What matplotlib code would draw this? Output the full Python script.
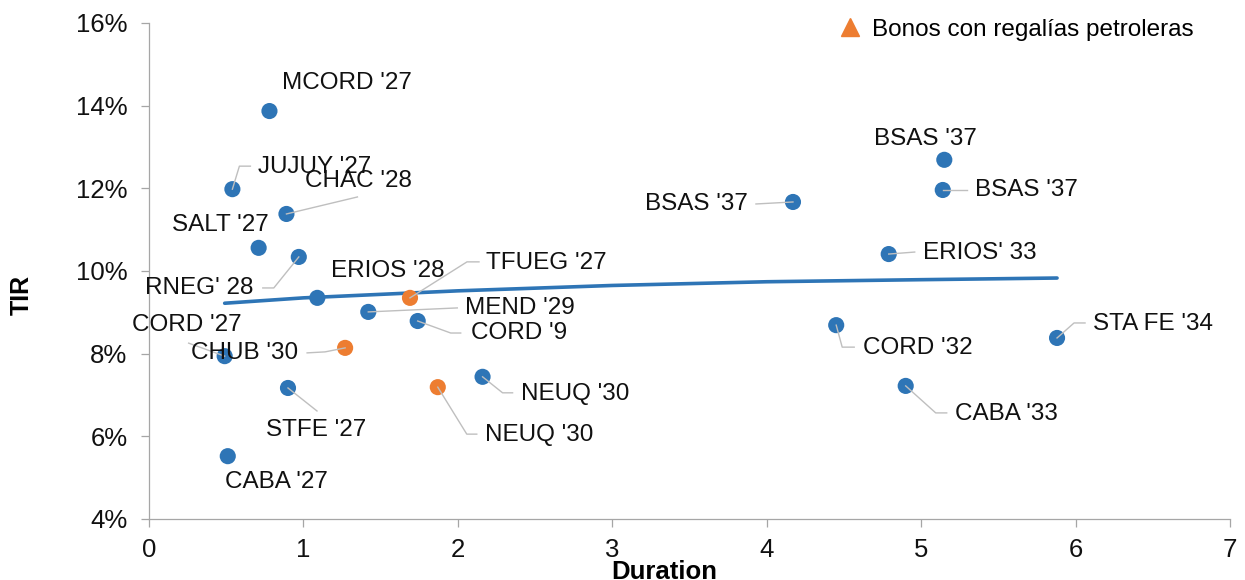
import numpy as np
import matplotlib
matplotlib.use("Agg")
import matplotlib.pyplot as plt
import matplotlib.transforms as mtransforms
from matplotlib.lines import Line2D
from matplotlib.ticker import FuncFormatter

plt.rcParams['font.family'] = ['Liberation Sans', 'DejaVu Sans']

# ---- datos ----
names = ["MCORD '27", "JUJUY '27", "CHAC '28", "SALT '27", "RNEG' 28", "ERIOS '28",
         "TFUEG '27", "MEND '29", "CORD '9", "CHUB '30", "CORD '27", "STFE '27",
         "NEUQ '30", "NEUQ '30", "CABA '27", "BSAS '37", "BSAS '37", "BSAS '37",
         "ERIOS' 33", "CORD '32", "STA FE '34", "CABA '33"]
duration = [0.78, 0.54, 0.89, 0.71, 0.97, 1.09,
            1.69, 1.42, 1.74, 1.27, 0.49, 0.90,
            1.87, 2.16, 0.51, 4.17, 5.15, 5.14,
            4.79, 4.45, 5.88, 4.90]
tir = [13.87, 11.98, 11.38, 10.56, 10.34, 9.35,
       9.35, 9.01, 8.79, 8.14, 7.94, 7.17,
       7.19, 7.44, 5.52, 11.67, 12.69, 11.96,
       10.41, 8.69, 8.38, 7.22]
petroleras = [False, False, False, False, False, False,
              True, False, False, True, False, False,
              True, False, False, False, False, False,
              False, False, False, False]

# linea de tendencia
trend_x = [0.49, 1.0, 2.0, 3.0, 4.0, 5.0, 5.88]
trend_y = [9.22, 9.35, 9.52, 9.65, 9.74, 9.79, 9.83]

x_ticks = [0, 1, 2, 3, 4, 5, 6, 7]
y_ticks = [4, 6, 8, 10, 12, 14, 16]

# ---- posicion de etiquetas (pixeles, y hacia abajo) ----
label_off = [(13, -28, 'left'), (26, -22, 'left'), (19, -33, 'left'), (10, -23, 'right'),
             (-45, 31, 'right'), (14, -27, 'left'), (76, -35, 'left'), (97, -4, 'left'),
             (53, 12, 'left'), (-47, 5, 'right'), (17, -31, 'right'), (28, 42, 'center'),
             (47, 48, 'left'), (38, 17, 'left'), (-3, 26, 'left'), (-45, 2, 'right'),
             (-70, -21, 'left'), (32, 0, 'left'), (34, -1, 'left'), (27, 23, 'left'),
             (36, -14, 'left'), (49, 28, 'left')]
leaders = [None, [(0, 0), (7, -23), (18, -23)], [(0, 0), (71, -17)], None,
           [(0, 0), (-25, 31), (-36, 31)], None, [(0, 0), (57, -36), (69, -36)],
           [(0, 0), (89, -4)], [(0, 0), (33, 12), (43, 12)], [(0, 0), (-20, 4), (-38, 5)],
           [(0, 0), (-36, -13)], [(0, 0), (29, 23)], [(0, 0), (29, 47), (39, 47)],
           [(0, 0), (20, 16), (30, 16)], None, [(0, 0), (-37, 2)], None,
           [(0, 0), (24, 0)], [(0, 0), (26, -2)], [(0, 0), (6, 22), (18, 22)],
           [(0, 0), (17, -15), (28, -15)], [(0, 0), (30, 27), (41, 27)]]

blue = '#2E75B6'
orange = '#ED7D31'
gray = '#A6A6A6'
leader_gray = '#BFBFBF'

fig = plt.figure(figsize=(12.45, 5.8), dpi=100)
ax = fig.add_subplot(111)
fig.subplots_adjust(left=149/1245, right=1230/1245, bottom=1-519/580, top=1-23/580)

ax.plot(trend_x, trend_y, color=blue, lw=2.6, solid_capstyle='round', zorder=2)

cols = [orange if p else blue for p in petroleras]
ax.scatter(duration, tir, s=135, c=cols, linewidths=0, zorder=3)

for i in range(len(names)):
    x, y = duration[i], tir[i]
    dx, dy, ha = label_off[i]
    ax.annotate(names[i], xy=(x, y), xytext=(dx, -dy), textcoords='offset pixels',
                ha=ha, va='center', fontsize=17.5, color='#111111', zorder=5)
    if leaders[i] is not None:
        tr = fig.dpi_scale_trans + mtransforms.ScaledTranslation(x, y, ax.transData)
        px = [p[0] / fig.dpi for p in leaders[i]]
        py = [-p[1] / fig.dpi for p in leaders[i]]
        ax.add_line(Line2D(px, py, transform=tr, color=leader_gray, lw=1.0, zorder=4))

ax.set_xlim(0, 7)
ax.set_ylim(4, 16)
ax.set_xticks(x_ticks)
ax.set_yticks(y_ticks)
ax.yaxis.set_major_formatter(FuncFormatter(lambda v, p: f'{v:.0f}%'))

for s in ['top', 'right']:
    ax.spines[s].set_visible(False)
for s in ['left', 'bottom']:
    ax.spines[s].set_color(gray)
    ax.spines[s].set_linewidth(0.9)
ax.tick_params(axis='both', direction='out', length=5.5, width=0.9, color=gray,
               labelsize=18.5, labelcolor='#111111')
ax.tick_params(axis='x', pad=8)
ax.tick_params(axis='y', pad=10)

ax.set_xlabel('Duration', fontsize=18.5, fontweight='bold', va='top')
ax.xaxis.set_label_coords(0.477, -0.082)
ax.set_ylabel('TIR', fontsize=18, fontweight='bold', va='center')
ax.yaxis.set_label_coords(-0.1175, 0.452)

handle = Line2D([], [], marker='^', color=orange, linestyle='None', markersize=13)
ax.legend(handles=[handle], labels=['Bonos con regalías petroleras'], loc='center left',
          bbox_to_anchor=(0.6374, 0.986), borderpad=0, borderaxespad=0, handlelength=1.0,
          handletextpad=0.4, frameon=False, fontsize=17.5)

fig.savefig('out.png', dpi=100)
